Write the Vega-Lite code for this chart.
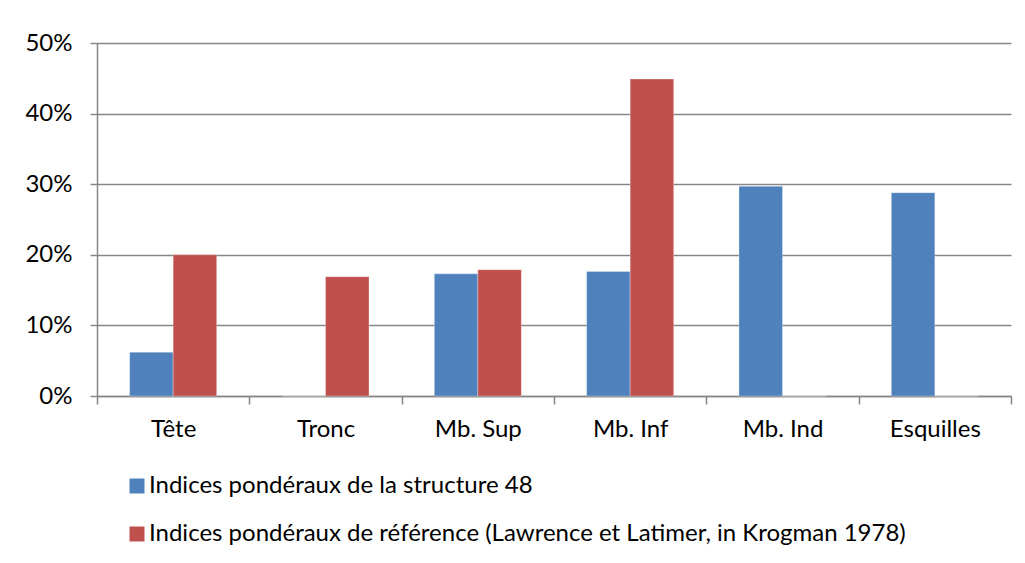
{
  "$schema": "https://vega.github.io/schema/vega-lite/v6.json",
  "width": 914,
  "height": 353,
  "autosize": {"type": "none"},
  "padding": {"left": 97, "top": 43, "right": 14, "bottom": 167},
  "background": "white",
  "data": {
    "values": [
      {"cat": "Tête", "series": "Indices pondéraux de la structure 48", "v": 0.062},
      {"cat": "Tête", "series": "Indices pondéraux de référence (Lawrence et Latimer, in Krogman 1978)", "v": 0.20},
      {"cat": "Tronc", "series": "Indices pondéraux de la structure 48", "v": 0},
      {"cat": "Tronc", "series": "Indices pondéraux de référence (Lawrence et Latimer, in Krogman 1978)", "v": 0.169},
      {"cat": "Mb. Sup", "series": "Indices pondéraux de la structure 48", "v": 0.173},
      {"cat": "Mb. Sup", "series": "Indices pondéraux de référence (Lawrence et Latimer, in Krogman 1978)", "v": 0.179},
      {"cat": "Mb. Inf", "series": "Indices pondéraux de la structure 48", "v": 0.1765},
      {"cat": "Mb. Inf", "series": "Indices pondéraux de référence (Lawrence et Latimer, in Krogman 1978)", "v": 0.449},
      {"cat": "Mb. Ind", "series": "Indices pondéraux de la structure 48", "v": 0.297},
      {"cat": "Mb. Ind", "series": "Indices pondéraux de référence (Lawrence et Latimer, in Krogman 1978)", "v": 0},
      {"cat": "Esquilles", "series": "Indices pondéraux de la structure 48", "v": 0.288},
      {"cat": "Esquilles", "series": "Indices pondéraux de référence (Lawrence et Latimer, in Krogman 1978)", "v": 0}
    ]
  },
  "mark": {"type": "bar", "stroke": "white", "strokeWidth": 0.5, "strokeOpacity": 0.6},
  "encoding": {
    "x": {
      "field": "cat", "type": "nominal", "sort": null, "title": null,
      "scale": {"paddingInner": 0, "paddingOuter": 0},
      "axis": {
        "labelAngle": 0, "labelFontSize": 24, "labelColor": "#000", "labelFont": "Lato",
        "labelPadding": 13, "tickBand": "extent", "tickSize": 8, "tickColor": "#868686",
        "domainColor": "#868686", "domainWidth": 1.5, "tickWidth": 1.5, "grid": false
      }
    },
    "xOffset": {
      "field": "series", "type": "nominal",
      "scale": {"paddingInner": 0, "paddingOuter": 0.75}
    },
    "y": {
      "field": "v", "type": "quantitative", "title": null,
      "scale": {"domain": [0, 0.5], "nice": false},
      "axis": {
        "values": [0, 0.1, 0.2, 0.3, 0.4, 0.5], "format": ".0%",
        "labelFontSize": 24, "labelColor": "#000", "labelFont": "Lato", "labelPadding": 18,
        "tickSize": 7, "tickColor": "#868686", "domainColor": "#868686", "domainWidth": 1.5, "tickWidth": 1.5,
        "grid": true, "gridColor": "#868686", "gridWidth": 1.5
      }
    },
    "color": {
      "field": "series", "type": "nominal", "title": null,
      "scale": {"range": ["#4F81BD", "#C0504D"]},
      "legend": {
        "orient": "none", "legendX": 28, "legendY": 431, "direction": "vertical",
        "symbolType": "square", "symbolSize": 225, "symbolStrokeWidth": 0,
        "labelFontSize": 24, "labelFont": "Lato", "labelColor": "#000", "labelLimit": 900,
        "rowPadding": 24, "labelOffset": 0
      }
    }
  },
  "config": {"view": {"stroke": null}}
}
